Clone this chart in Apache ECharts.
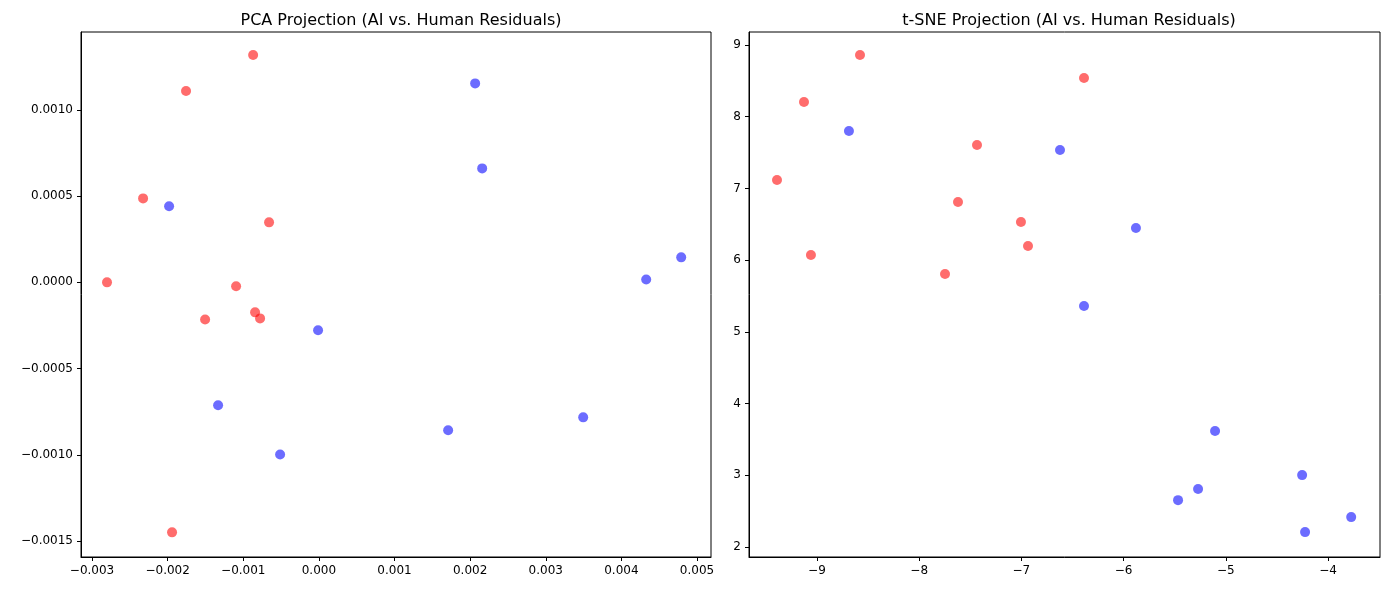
<!DOCTYPE html>
<html><head><meta charset="utf-8">
<script src="https://cdn.jsdelivr.net/npm/echarts@6/dist/echarts.min.js"></script>
<style>html,body{margin:0;padding:0;background:#fff}#c{width:1389px;height:590px}</style>
</head><body><div id="c"></div>
<script>
const pcaHuman = [[-0.000870,0.001319],[-0.001757,0.00111],[-0.002325,0.000487],[-0.000659,0.000348],[-0.002802,0],[-0.001095,-0.000023],[-0.001505,-0.000215],[-0.000844,-0.000174],[-0.000778,-0.000209],[-0.001942,-0.00145]];
const pcaAI = [[0.002066,0.001154],[0.002159,0.000661],[-0.001981,0.000441],[0.004791,0.000145],[0.004328,0.000017],[-0.000011,-0.000278],[-0.001333,-0.000713],[0.001709,-0.000858],[0.003495,-0.000783],[-0.000513,-0.000998]];
const tsneHuman = [[-8.579,8.861],[-9.127,8.205],[-6.387,8.540],[-9.391,7.117],[-7.434,7.605],[-7.620,6.810],[-7.004,6.531],[-6.935,6.196],[-9.059,6.071],[-7.747,5.806]];
const tsneAI = [[-8.687,7.801],[-6.622,7.536],[-5.879,6.448],[-6.387,5.360],[-5.105,3.617],[-4.253,3.003],[-5.271,2.808],[-5.467,2.654],[-3.773,2.417],[-4.224,2.208]];
const pcaXTicks = [-0.003,-0.002,-0.001,0,0.001,0.002,0.003,0.004,0.005];
const pcaYTicks = [-0.0015,-0.001,-0.0005,0,0.0005,0.001];
const tsneXTicks = [-9,-8,-7,-6,-5,-4];
const tsneYTicks = [2,3,4,5,6,7,8,9];
const RED='rgba(255,0,0,0.72)', BLUE='rgba(0,0,255,0.72)';
const fmt = d => v => v.toFixed(d).replace('-', '\u2212');
function ax(type, min, max, ticks, d, gi){
  return {type:'value', gridIndex:gi, min, max, splitLine:{show:false},
    axisLine:{show:true,onZero:false,lineStyle:{color:'#000'}},
    axisTick:{show:true,length:4,customValues:ticks,lineStyle:{color:'#000'}},
    axisLabel:{customValues:ticks,color:'#000',fontSize:12,fontFamily:'DejaVu Sans',formatter:fmt(d)}};
}
const chart = echarts.init(document.getElementById('c'));
chart.setOption({
  animation:false,
  title:[{text:'PCA Projection (AI vs. Human Residuals)',left:396,top:8,textAlign:'center',textStyle:{fontSize:16,fontWeight:'normal',color:'#000',fontFamily:'DejaVu Sans'}},
         {text:'t-SNE Projection (AI vs. Human Residuals)',left:1064,top:8,textAlign:'center',textStyle:{fontSize:16,fontWeight:'normal',color:'#000',fontFamily:'DejaVu Sans'}}],
  grid:[{left:81,top:32,width:630,height:525,show:true,borderColor:'#000',borderWidth:1},
        {left:749,top:32,width:631,height:525,show:true,borderColor:'#000',borderWidth:1}],
  xAxis:[ax('x',-0.003146,0.005185,pcaXTicks,3,0), ax('x',-9.665,-3.491,tsneXTicks,0,1)],
  yAxis:[ax('y',-0.001593,0.001452,pcaYTicks,4,0), ax('y',1.861,9.181,tsneYTicks,0,1)],
  series:[
    {type:'scatter',xAxisIndex:0,yAxisIndex:0,data:pcaHuman,itemStyle:{color:RED},symbolSize:10},
    {type:'scatter',xAxisIndex:0,yAxisIndex:0,data:pcaAI,itemStyle:{color:BLUE},symbolSize:10},
    {type:'scatter',xAxisIndex:1,yAxisIndex:1,data:tsneHuman,itemStyle:{color:RED},symbolSize:10},
    {type:'scatter',xAxisIndex:1,yAxisIndex:1,data:tsneAI,itemStyle:{color:BLUE},symbolSize:10}
  ]
});
</script></body></html>
